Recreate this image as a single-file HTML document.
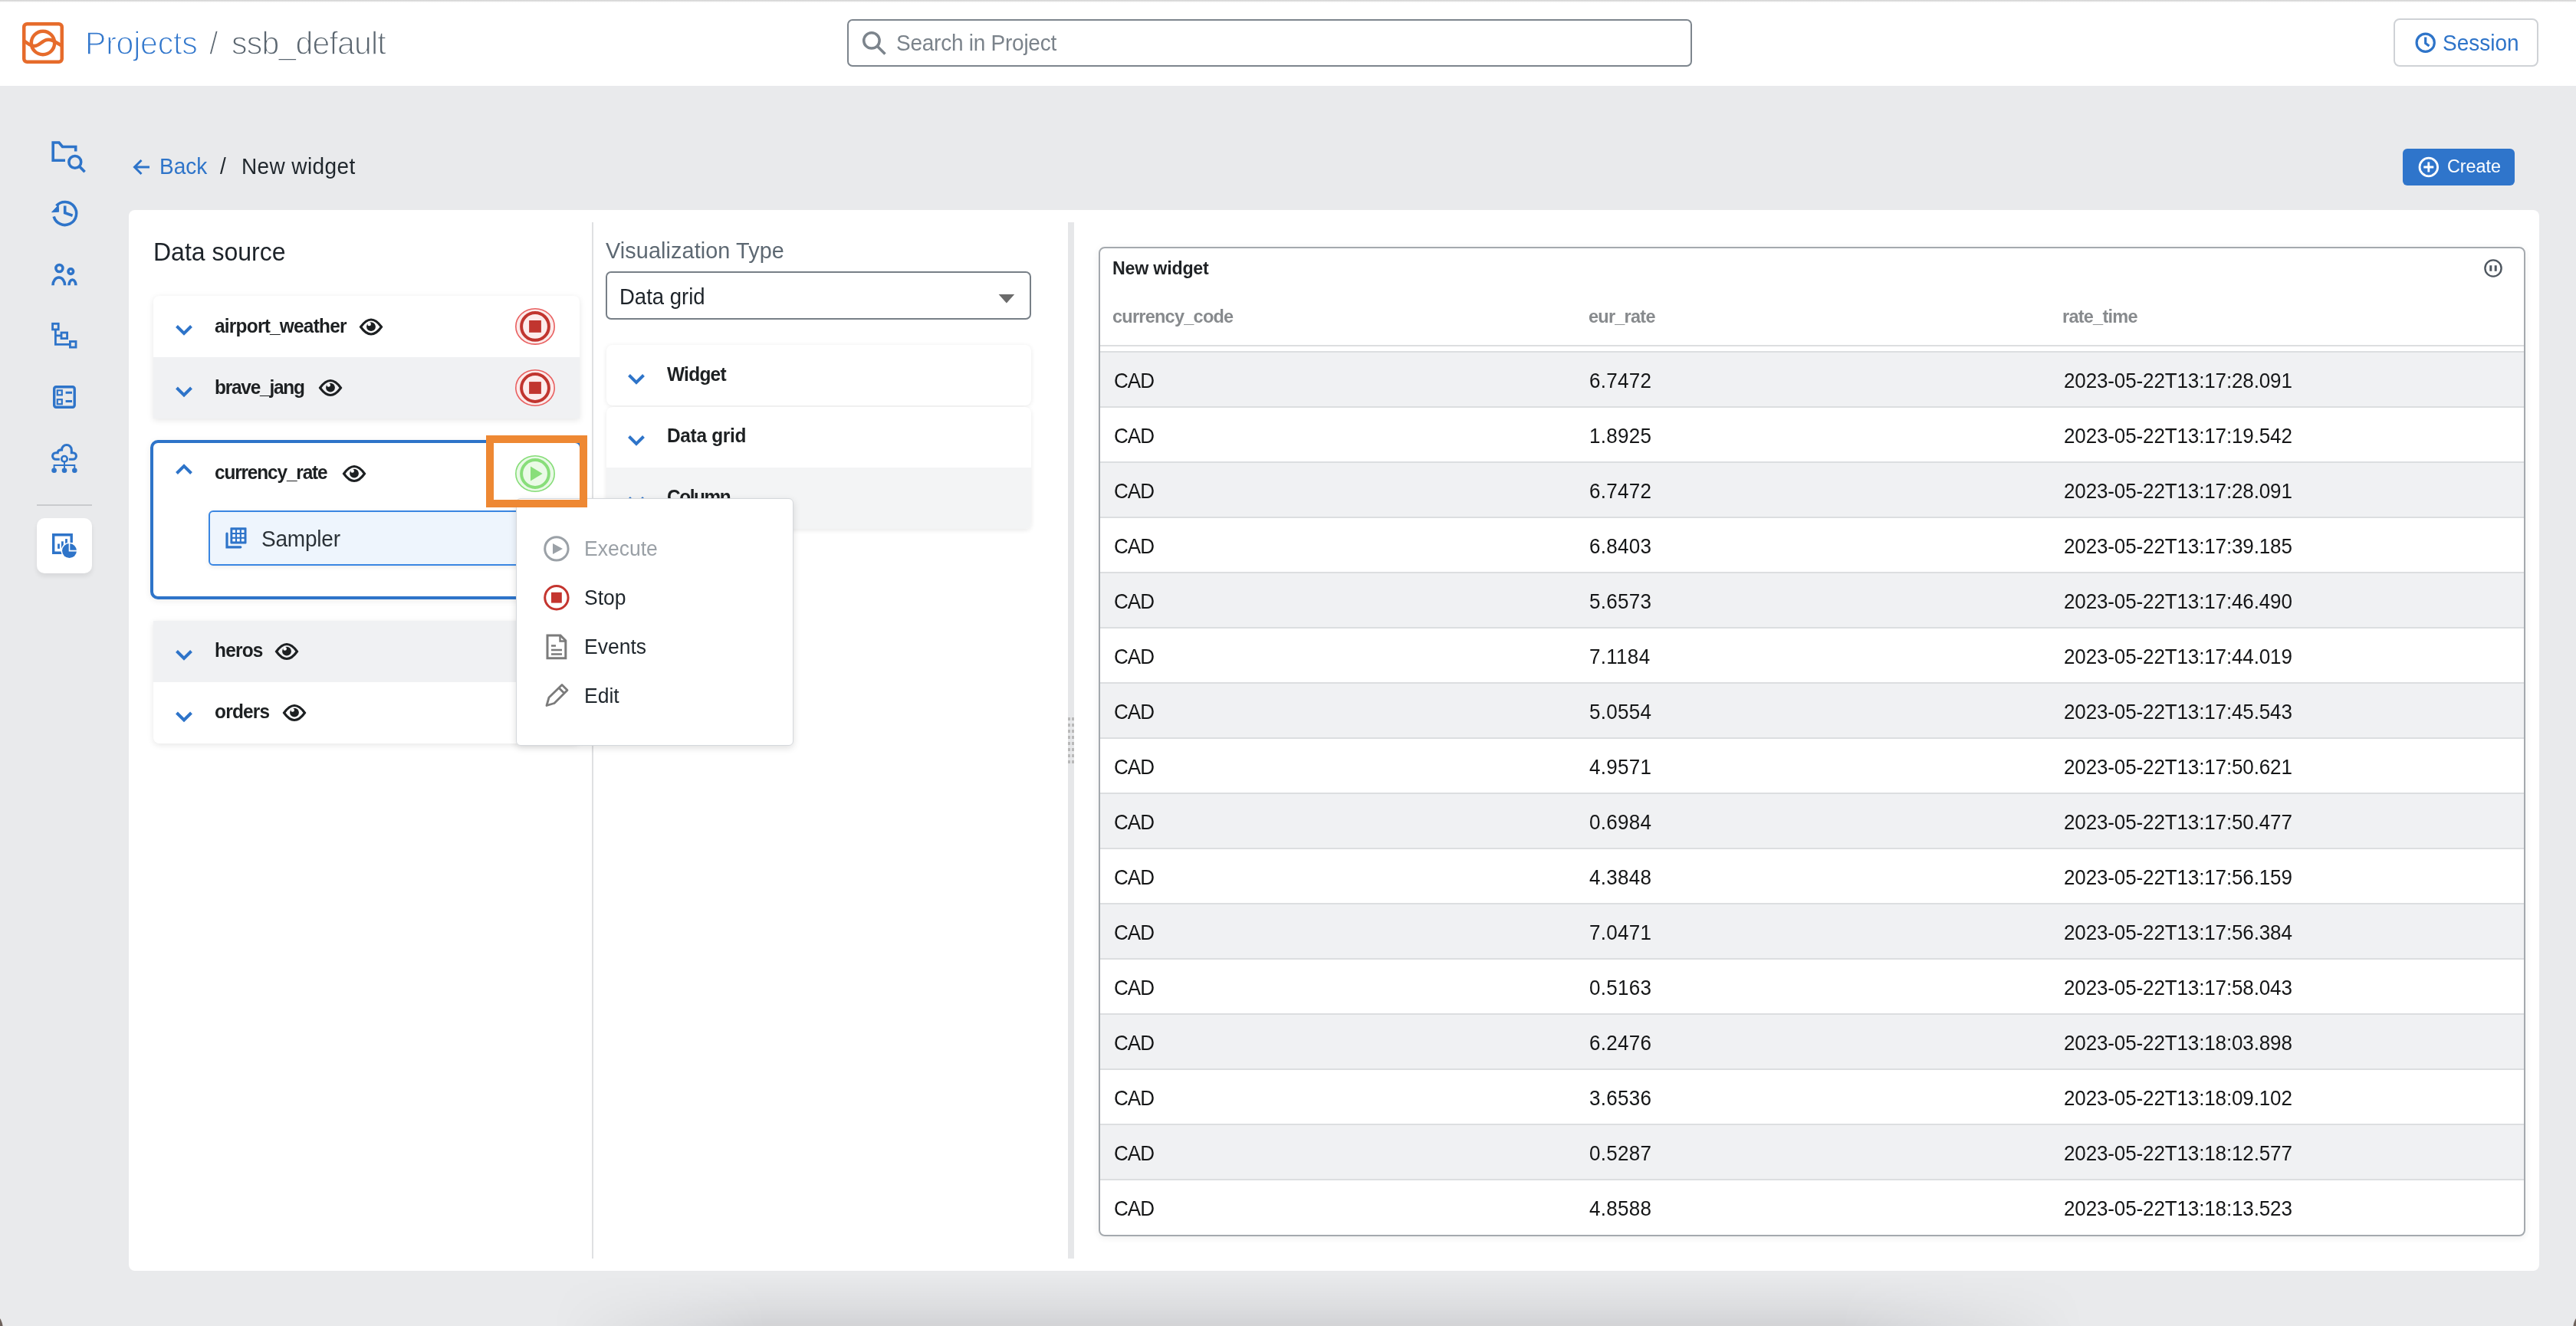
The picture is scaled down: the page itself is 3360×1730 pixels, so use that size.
<!DOCTYPE html>
<html><head><meta charset="utf-8">
<style>
*{box-sizing:border-box;margin:0;padding:0}
html,body{width:3360px;height:1730px;overflow:hidden}
body{background:#e9eaec;font-family:"Liberation Sans",sans-serif;position:relative;color:#1d2329}
.a{position:absolute}
.t{position:absolute;white-space:nowrap;line-height:1}
svg{position:absolute;overflow:visible}
</style></head><body>

<div class="a" style="left:720px;top:1662px;width:2000px;height:68px;background:linear-gradient(to bottom, rgba(0,0,10,0), rgba(0,0,10,0.035) 45%, rgba(0,0,10,0.095));-webkit-mask-image:linear-gradient(to right, transparent, #000 14%, #000 84%, transparent)"></div>
<div class="a" style="left:-6px;top:1716px;width:10px;height:20px;background:#6e625c;border-radius:0 100% 0 0/0 100% 0 0"></div>
<div class="a" style="left:3356px;top:1716px;width:10px;height:20px;background:#6e625c;border-radius:100% 0 0 0/100% 0 0 0"></div>
<div class="a" style="left:0px;top:0px;width:3360px;height:112px;background:#fff"></div>
<div class="a" style="left:0px;top:0px;width:3360px;height:3px;background:linear-gradient(to bottom,#d3d3d3 0,#d8d8d8 1px,#fff 3px)"></div>
<svg style="left:29px;top:29px" width="54" height="54" viewBox="0 0 54 54" fill="none" stroke="#e66b2b" stroke-width="4.5">
<rect x="2.25" y="2.25" width="49.5" height="49.5" rx="4"/>
<circle cx="27" cy="27" r="15.2"/>
<path d="M2,24 C8,28 10,31 16,31 C22,31 26,24 32,23 C38,22 42,25 52,31"/>
</svg>
<div class="t" style="left:110.5px;top:34.8px;font-size:43.25px;color:#3277cc;font-weight:400;letter-spacing:-0.21px;transform:scaleX(0.9479);transform-origin:0 0;-webkit-text-stroke:1.3px #fff;">Projects</div>
<div class="t" style="left:273.0px;top:34.8px;font-size:43.25px;color:#5b6670;font-weight:400;transform:scaleX(0.9479);transform-origin:0 0;-webkit-text-stroke:1.3px #fff;">/</div>
<div class="t" style="left:301.5px;top:34.8px;font-size:43.25px;color:#5b6670;font-weight:400;letter-spacing:-0.84px;transform:scaleX(0.9479);transform-origin:0 0;-webkit-text-stroke:1.3px #fff;">ssb_default</div>
<div class="a" style="left:1105px;top:25px;width:1102px;height:62px;border:2px solid #7d858d;border-radius:7px;background:#fff"></div>
<svg style="left:0;top:0" width="1" height="1" fill="none" stroke="#7c848c" stroke-width="3.5">
<circle cx="1136.9" cy="52.9" r="10.2"/><path d="M1144.5 60.5 L1154.5 70.5"/></svg>
<div class="t" style="left:1169.0px;top:41.0px;font-size:29.54px;color:#7b838b;font-weight:400;letter-spacing:-0.26px;transform:scaleX(0.9479);transform-origin:0 0;">Search in Project</div>
<div class="a" style="left:3122px;top:24px;width:189px;height:63px;border:2px solid #cfd2d6;border-radius:8px;background:#fff"></div>
<svg style="left:0;top:0" width="1" height="1" fill="none" stroke="#2e74c9" stroke-width="3.2">
<circle cx="3163.7" cy="55.7" r="11.6"/><path d="M3163.7 48.5 V56.5 L3168.5 60"/></svg>
<div class="t" style="left:3186.0px;top:40.8px;font-size:29.54px;color:#2e74c9;font-weight:400;transform:scaleX(0.9479);transform-origin:0 0;">Session</div>
<svg style="left:0;top:0" width="1" height="1" fill="none" stroke="#2e74c9" stroke-width="3.6" stroke-linejoin="miter">
<path d="M85,209.2 H69.2 V186 H77 L81.5,191.5 H98.7 V197.5"/>
<circle cx="97.8" cy="211.4" r="7.9"/><path d="M103.5,217 L110.6,224.3"/>
<path d="M70.2,282.5 A15,15 0 1 0 73.5,268.5"/>
<path d="M67.6,276.8 L76.2,267.8 L76.6,276.2 Z" fill="#2e74c9" stroke-width="1"/>
<path d="M84.7,268.6 V277.8 L94.6,281.2"/>
<circle cx="77.4" cy="350" r="4.5"/><path d="M69,372.2 A7.8,10.2 0 0 1 84.6,372.2"/>
<circle cx="92.3" cy="354.1" r="3.3"/><path d="M90,372.2 A4.45,7.2 0 0 1 98.9,372.2"/>
<rect x="68.6" y="422.3" width="7.6" height="7.6" stroke-width="2.8"/>
<rect x="80" y="434" width="7.6" height="7.6" stroke-width="2.8"/>
<rect x="91.4" y="445.5" width="7.6" height="7.6" stroke-width="2.8"/>
<path d="M72.4,430 V449.3 H91.4 M72.4,437.8 H80" stroke-width="2.8"/>
<rect x="70.7" y="504.7" width="26.5" height="26.5" rx="2.5" stroke-width="3.4"/>
<rect x="74.8" y="509.3" width="6" height="6" stroke-width="2.2"/>
<rect x="74.8" y="521.2" width="6" height="6" stroke-width="2.2"/>
<path d="M85.6,512.2 H94 M85.6,523.6 H94" stroke-width="3"/>
<path d="M77.8,599.3 H72.9 A4.3,4.3 0 0 1 72.9,590.7 H75.2 Q75.4,586.9 80.5,586.9 A6.4,6.4 0 1 1 93.3,586.9 V590.7 H95.1 A4.3,4.3 0 0 1 95.1,599.3 H90" stroke-width="3.1"/>
<circle cx="84" cy="598.7" r="3.75" stroke-width="2.6"/>
<path d="M84,602.4 V613 M70.6,607 H97.3 M70.6,606.1 V613 M97.3,606.1 V613" stroke-width="1.9"/>
<circle cx="70.6" cy="613.8" r="3.3" fill="#2e74c9" stroke="none"/>
<circle cx="84" cy="613.8" r="3.3" fill="#2e74c9" stroke="none"/>
<circle cx="97.3" cy="613.8" r="3.3" fill="#2e74c9" stroke="none"/>
</svg>
<div class="a" style="left:48px;top:658px;width:72px;height:2px;background:#c9cbce"></div>
<div class="a" style="left:48px;top:676px;width:72px;height:72px;background:#fff;border-radius:10px;box-shadow:0 4px 6px rgba(0,0,0,0.08)"></div>
<svg style="left:0;top:0" width="1" height="1" fill="none" stroke="#2e74c9" stroke-width="3.4">
<path d="M82,721.2 H69.7 V697.7 H93.2 V708" stroke-width="3.4"/>
<rect x="75.1" y="709.5" width="2.8" height="6.4" fill="#2e74c9" stroke="none"/>
<rect x="80" y="706.3" width="2.8" height="9.4" fill="#2e74c9" stroke="none"/>
<rect x="85.1" y="703.1" width="2.8" height="6" fill="#2e74c9" stroke="none"/>
<circle cx="90.5" cy="718.6" r="10.9" fill="#fff" stroke="none"/>
<circle cx="90.5" cy="718.6" r="9.5" fill="#2e74c9" stroke="none"/>
<path d="M90.5,708 V718.6 H101" stroke="#fff" stroke-width="1.6"/>
</svg>
<svg style="left:0;top:0" width="1" height="1" fill="none" stroke="#2e74c9" stroke-width="3">
<path d="M195,218 H176 M184.5,209 L175.5,218 L184.5,227"/></svg>
<div class="t" style="left:207.5px;top:202.0px;font-size:29.54px;color:#2e74c9;font-weight:400;transform:scaleX(0.9479);transform-origin:0 0;">Back</div>
<div class="t" style="left:287.0px;top:202.0px;font-size:29.54px;color:#1f262c;font-weight:400;transform:scaleX(0.9479);transform-origin:0 0;">/</div>
<div class="t" style="left:314.5px;top:202.0px;font-size:29.54px;color:#1f262c;font-weight:400;letter-spacing:0.42px;transform:scaleX(0.9479);transform-origin:0 0;">New widget</div>
<div class="a" style="left:3134px;top:194px;width:146px;height:48px;background:#2f75cb;border-radius:6px"></div>
<svg style="left:0;top:0" width="1" height="1" fill="none" stroke="#fff" stroke-width="2.8">
<circle cx="3167.8" cy="218" r="11.8"/><path d="M3167.8 211.5 V224.5 M3161.3 218 H3174.3"/></svg>
<div class="t" style="left:3191.5px;top:205.4px;font-size:24.58px;color:#fff;font-weight:400;transform:scaleX(0.9479);transform-origin:0 0;">Create</div>
<div class="a" style="left:168px;top:274px;width:3144px;height:1384px;background:#fff;border-radius:8px"></div>
<div class="t" style="left:199.5px;top:311.9px;font-size:33.76px;color:#1d2329;font-weight:400;transform:scaleX(0.9479);transform-origin:0 0;">Data source</div>
<div class="a" style="left:772px;top:290px;width:2px;height:1352px;background:#dfe0e2"></div>
<div class="a" style="left:1393px;top:290px;width:8px;height:1352px;background:#e6e7e9"></div>
<div class="a" style="left:1393px;top:936px;width:3px;height:4px;background:#b9b9b9"></div>
<div class="a" style="left:1398px;top:936px;width:3px;height:4px;background:#b9b9b9"></div>
<div class="a" style="left:1393px;top:944px;width:3px;height:4px;background:#b9b9b9"></div>
<div class="a" style="left:1398px;top:944px;width:3px;height:4px;background:#b9b9b9"></div>
<div class="a" style="left:1393px;top:952px;width:3px;height:4px;background:#b9b9b9"></div>
<div class="a" style="left:1398px;top:952px;width:3px;height:4px;background:#b9b9b9"></div>
<div class="a" style="left:1393px;top:960px;width:3px;height:4px;background:#b9b9b9"></div>
<div class="a" style="left:1398px;top:960px;width:3px;height:4px;background:#b9b9b9"></div>
<div class="a" style="left:1393px;top:968px;width:3px;height:4px;background:#b9b9b9"></div>
<div class="a" style="left:1398px;top:968px;width:3px;height:4px;background:#b9b9b9"></div>
<div class="a" style="left:1393px;top:976px;width:3px;height:4px;background:#b9b9b9"></div>
<div class="a" style="left:1398px;top:976px;width:3px;height:4px;background:#b9b9b9"></div>
<div class="a" style="left:1393px;top:984px;width:3px;height:4px;background:#b9b9b9"></div>
<div class="a" style="left:1398px;top:984px;width:3px;height:4px;background:#b9b9b9"></div>
<div class="a" style="left:1393px;top:992px;width:3px;height:4px;background:#b9b9b9"></div>
<div class="a" style="left:1398px;top:992px;width:3px;height:4px;background:#b9b9b9"></div>
<div class="a" style="left:200px;top:386px;width:556px;height:160px;border-radius:8px 8px 0 0;background:#fff;box-shadow:0 2px 8px rgba(0,0,0,0.10)"></div>
<div class="a" style="left:200px;top:466px;width:556px;height:80px;background:#f0f1f3"></div>
<svg style="left:0;top:0" width="1" height="1" fill="none" stroke="#2e74c9" stroke-width="4"><path d="M230.5,425.5 L240,435 L249.5,425.5"/></svg>
<div class="t" style="left:279.5px;top:412.5px;font-size:25.74px;color:#1d2022;font-weight:700;letter-spacing:-0.79px;transform:scaleX(0.9479);transform-origin:0 0;">airport_weather</div>
<svg style="left:0;top:0" width="1" height="1" fill="none" stroke="#1d2022" stroke-width="3.1"><path d="M470.5,426.5 Q484,407.5 497.5,426.5 Q484,445.5 470.5,426.5 Z"/><circle cx="484" cy="426.2" r="5.9" fill="#1d2022" stroke="none"/><circle cx="481.6" cy="422.9" r="2.3" fill="#fff" stroke="none"/></svg>
<svg style="left:0;top:0" width="1" height="1"><ellipse cx="698" cy="425.9" rx="25.2" ry="23.2" fill="#fcebeb" stroke="#e96060" stroke-width="1.6"/><circle cx="698" cy="425.9" r="17.9" fill="#fcecec" stroke="#c1352f" stroke-width="4"/><rect x="690.1" y="418.0" width="15.8" height="15.8" fill="#c1352f"/></svg>
<svg style="left:0;top:0" width="1" height="1" fill="none" stroke="#2e74c9" stroke-width="4"><path d="M230.5,506.0 L240,515.5 L249.5,506.0"/></svg>
<div class="t" style="left:279.5px;top:492.5px;font-size:25.74px;color:#1d2022;font-weight:700;letter-spacing:-1.27px;transform:scaleX(0.9479);transform-origin:0 0;">brave_jang</div>
<svg style="left:0;top:0" width="1" height="1" fill="none" stroke="#1d2022" stroke-width="3.1"><path d="M417.5,506 Q431,487 444.5,506 Q431,525 417.5,506 Z"/><circle cx="431" cy="505.7" r="5.9" fill="#1d2022" stroke="none"/><circle cx="428.6" cy="502.4" r="2.3" fill="#fff" stroke="none"/></svg>
<svg style="left:0;top:0" width="1" height="1"><ellipse cx="698" cy="506" rx="25.2" ry="23.2" fill="#fcebeb" stroke="#e96060" stroke-width="1.6"/><circle cx="698" cy="506" r="17.9" fill="#fcecec" stroke="#c1352f" stroke-width="4"/><rect x="690.1" y="498.1" width="15.8" height="15.8" fill="#c1352f"/></svg>
<div class="a" style="left:196px;top:574px;width:564px;height:208px;border:4px solid #2e74c9;border-radius:10px;background:#fff;box-shadow:0 2px 8px rgba(0,0,0,0.08)"></div>
<svg style="left:0;top:0" width="1" height="1" fill="none" stroke="#2e74c9" stroke-width="4"><path d="M230.5,617.5 L240,608 L249.5,617.5"/></svg>
<div class="t" style="left:279.5px;top:604.2px;font-size:25.74px;color:#1d2022;font-weight:700;letter-spacing:-1.21px;transform:scaleX(0.9479);transform-origin:0 0;">currency_rate</div>
<svg style="left:0;top:0" width="1" height="1" fill="none" stroke="#1d2022" stroke-width="3.1"><path d="M448.5,618 Q462,599 475.5,618 Q462,637 448.5,618 Z"/><circle cx="462" cy="617.7" r="5.9" fill="#1d2022" stroke="none"/><circle cx="459.6" cy="614.4" r="2.3" fill="#fff" stroke="none"/></svg>
<svg style="left:0;top:0" width="1" height="1"><ellipse cx="698" cy="618" rx="25.2" ry="23.2" fill="#e9f9e6" stroke="#86dd78" stroke-width="1.6"/><circle cx="698" cy="618" r="17.9" fill="#eafae7" stroke="#88de7a" stroke-width="4"/><path d="M692,608.4 L707.6,618 L692,627.6 Z" fill="#88de7a"/></svg>
<div class="a" style="left:272px;top:666px;width:440px;height:72px;border:2px solid #3a86e2;border-radius:6px;background:#eef5fd;box-shadow:0 2px 6px rgba(0,0,0,0.08)"></div>
<svg style="left:0;top:0" width="1" height="1"><path d="M296,696 V713.8 H313.8" fill="none" stroke="#2e74c9" stroke-width="3.2" stroke-linecap="round"/><rect x="300.4" y="688.3" width="21.1" height="21.1" rx="0.8" fill="#2e74c9"/><rect x="303.3" y="691.4" width="3.6" height="3.6" fill="#fff"/><rect x="303.3" y="697.1" width="3.6" height="3.6" fill="#fff"/><rect x="303.3" y="702.8" width="3.6" height="3.6" fill="#fff"/><rect x="309.1" y="691.4" width="3.6" height="3.6" fill="#fff"/><rect x="309.1" y="697.1" width="3.6" height="3.6" fill="#fff"/><rect x="309.1" y="702.8" width="3.6" height="3.6" fill="#fff"/><rect x="314.9" y="691.4" width="3.6" height="3.6" fill="#fff"/><rect x="314.9" y="697.1" width="3.6" height="3.6" fill="#fff"/><rect x="314.9" y="702.8" width="3.6" height="3.6" fill="#fff"/></svg>
<div class="t" style="left:341.0px;top:687.5px;font-size:29.54px;color:#2b3238;font-weight:400;letter-spacing:-0.21px;transform:scaleX(0.9479);transform-origin:0 0;">Sampler</div>
<div class="a" style="left:200px;top:810px;width:556px;height:160px;border-radius:0 0 8px 8px;background:#fff;box-shadow:0 2px 8px rgba(0,0,0,0.10)"></div>
<div class="a" style="left:200px;top:810px;width:556px;height:80px;background:#f0f1f3"></div>
<svg style="left:0;top:0" width="1" height="1" fill="none" stroke="#2e74c9" stroke-width="4"><path d="M230.5,849.5 L240,859 L249.5,849.5"/></svg>
<div class="t" style="left:279.5px;top:835.9px;font-size:25.74px;color:#1d2022;font-weight:700;letter-spacing:-0.79px;transform:scaleX(0.9479);transform-origin:0 0;">heros</div>
<svg style="left:0;top:0" width="1" height="1" fill="none" stroke="#1d2022" stroke-width="3.1"><path d="M360.5,850 Q374,831 387.5,850 Q374,869 360.5,850 Z"/><circle cx="374" cy="849.7" r="5.9" fill="#1d2022" stroke="none"/><circle cx="371.6" cy="846.4" r="2.3" fill="#fff" stroke="none"/></svg>
<svg style="left:0;top:0" width="1" height="1" fill="none" stroke="#2e74c9" stroke-width="4"><path d="M230.5,930.0 L240,939.5 L249.5,930.0"/></svg>
<div class="t" style="left:279.5px;top:916.0px;font-size:25.74px;color:#1d2022;font-weight:700;letter-spacing:-0.79px;transform:scaleX(0.9479);transform-origin:0 0;">orders</div>
<svg style="left:0;top:0" width="1" height="1" fill="none" stroke="#1d2022" stroke-width="3.1"><path d="M370.5,930 Q384,911 397.5,930 Q384,949 370.5,930 Z"/><circle cx="384" cy="929.7" r="5.9" fill="#1d2022" stroke="none"/><circle cx="381.6" cy="926.4" r="2.3" fill="#fff" stroke="none"/></svg>
<div class="t" style="left:789.5px;top:310.5px;font-size:30.38px;color:#5d6872;font-weight:400;letter-spacing:0.11px;transform:scaleX(0.9479);transform-origin:0 0;">Visualization Type</div>
<div class="a" style="left:790px;top:354px;width:555px;height:63px;border:2px solid #777f87;border-radius:7px;background:#fff"></div>
<div class="t" style="left:808.0px;top:373.4px;font-size:29.01px;color:#1d2329;font-weight:400;transform:scaleX(0.9479);transform-origin:0 0;">Data grid</div>
<svg style="left:0;top:0" width="1" height="1"><path d="M1302.6,384 H1323.2 L1312.9,395.5 Z" fill="#6b6b6b"/></svg>
<div class="a" style="left:791px;top:450px;width:554px;height:79px;border-radius:8px;background:#fff;box-shadow:0 1px 6px rgba(0,0,0,0.09)"></div>
<div class="a" style="left:791px;top:531px;width:554px;height:159px;border-radius:8px;background:#fff;box-shadow:0 2px 6px rgba(0,0,0,0.09);overflow:hidden"><div class="a" style="left:0;top:79px;width:554px;height:80px;background:#f3f4f5"></div></div>
<svg style="left:0;top:0" width="1" height="1" fill="none" stroke="#2e74c9" stroke-width="4"><path d="M820.5,489.5 L830,499 L839.5,489.5"/></svg>
<div class="t" style="left:869.5px;top:476.2px;font-size:25.74px;color:#1d2022;font-weight:700;letter-spacing:-0.74px;transform:scaleX(0.9479);transform-origin:0 0;">Widget</div>
<svg style="left:0;top:0" width="1" height="1" fill="none" stroke="#2e74c9" stroke-width="4"><path d="M820.5,569.5 L830,579 L839.5,569.5"/></svg>
<div class="t" style="left:869.5px;top:556.2px;font-size:25.74px;color:#1d2022;font-weight:700;letter-spacing:-0.32px;transform:scaleX(0.9479);transform-origin:0 0;">Data grid</div>
<svg style="left:0;top:0" width="1" height="1" fill="none" stroke="#2e74c9" stroke-width="4"><path d="M820.5,649.5 L830,659 L839.5,649.5"/></svg>
<div class="t" style="left:869.5px;top:636.2px;font-size:25.74px;color:#1d2022;font-weight:700;letter-spacing:-1.48px;transform:scaleX(0.9479);transform-origin:0 0;">Column</div>
<div class="a" style="left:1433px;top:322px;width:1861px;height:1291px;border-radius:8px;background:#fff;box-shadow:0 2px 10px rgba(0,0,0,0.07)"></div>
<div class="t" style="left:1451.0px;top:338.2px;font-size:24.48px;color:#1f2225;font-weight:700;letter-spacing:-0.21px;transform:scaleX(0.9479);transform-origin:0 0;">New widget</div>
<svg style="left:0;top:0" width="1" height="1" fill="none" stroke="#4f5760" stroke-width="2.4"><circle cx="3252" cy="350" r="10.6"/><path d="M3248.8,346.2 V353.8 M3255.2,346.2 V353.8" stroke-width="3"/></svg>
<div class="t" style="left:1451.0px;top:400.9px;font-size:24.79px;color:#878a8d;font-weight:700;letter-spacing:-0.79px;transform:scaleX(0.9479);transform-origin:0 0;">currency_code</div>
<div class="t" style="left:2071.5px;top:400.9px;font-size:24.79px;color:#878a8d;font-weight:700;letter-spacing:-0.79px;transform:scaleX(0.9479);transform-origin:0 0;">eur_rate</div>
<div class="t" style="left:2689.5px;top:400.9px;font-size:24.79px;color:#878a8d;font-weight:700;letter-spacing:-0.79px;transform:scaleX(0.9479);transform-origin:0 0;">rate_time</div>
<div class="a" style="left:1435px;top:450px;width:1857px;height:2px;background:#dcdee0"></div>
<div class="a" style="left:1435px;top:458px;width:1857px;height:72px;background:#f0f1f3;border-top:2px solid #dcdee0"></div>
<div class="t" style="left:1452.5px;top:482.8px;font-size:27.43px;color:#151617;font-weight:400;letter-spacing:-0.95px;transform:scaleX(0.9479);transform-origin:0 0;">CAD</div>
<div class="t" style="left:2073.0px;top:482.8px;font-size:27.43px;color:#151617;font-weight:400;letter-spacing:0.32px;transform:scaleX(0.9479);transform-origin:0 0;">6.7472</div>
<div class="t" style="left:2691.5px;top:482.8px;font-size:27.43px;color:#151617;font-weight:400;letter-spacing:-0.13px;transform:scaleX(0.9479);transform-origin:0 0;">2023-05-22T13:17:28.091</div>
<div class="a" style="left:1435px;top:530px;width:1857px;height:72px;background:#fff;border-top:2px solid #dcdee0"></div>
<div class="t" style="left:1452.5px;top:554.8px;font-size:27.43px;color:#151617;font-weight:400;letter-spacing:-0.95px;transform:scaleX(0.9479);transform-origin:0 0;">CAD</div>
<div class="t" style="left:2073.0px;top:554.8px;font-size:27.43px;color:#151617;font-weight:400;letter-spacing:0.32px;transform:scaleX(0.9479);transform-origin:0 0;">1.8925</div>
<div class="t" style="left:2691.5px;top:554.8px;font-size:27.43px;color:#151617;font-weight:400;letter-spacing:-0.13px;transform:scaleX(0.9479);transform-origin:0 0;">2023-05-22T13:17:19.542</div>
<div class="a" style="left:1435px;top:602px;width:1857px;height:72px;background:#f0f1f3;border-top:2px solid #dcdee0"></div>
<div class="t" style="left:1452.5px;top:626.8px;font-size:27.43px;color:#151617;font-weight:400;letter-spacing:-0.95px;transform:scaleX(0.9479);transform-origin:0 0;">CAD</div>
<div class="t" style="left:2073.0px;top:626.8px;font-size:27.43px;color:#151617;font-weight:400;letter-spacing:0.32px;transform:scaleX(0.9479);transform-origin:0 0;">6.7472</div>
<div class="t" style="left:2691.5px;top:626.8px;font-size:27.43px;color:#151617;font-weight:400;letter-spacing:-0.13px;transform:scaleX(0.9479);transform-origin:0 0;">2023-05-22T13:17:28.091</div>
<div class="a" style="left:1435px;top:674px;width:1857px;height:72px;background:#fff;border-top:2px solid #dcdee0"></div>
<div class="t" style="left:1452.5px;top:698.8px;font-size:27.43px;color:#151617;font-weight:400;letter-spacing:-0.95px;transform:scaleX(0.9479);transform-origin:0 0;">CAD</div>
<div class="t" style="left:2073.0px;top:698.8px;font-size:27.43px;color:#151617;font-weight:400;letter-spacing:0.32px;transform:scaleX(0.9479);transform-origin:0 0;">6.8403</div>
<div class="t" style="left:2691.5px;top:698.8px;font-size:27.43px;color:#151617;font-weight:400;letter-spacing:-0.13px;transform:scaleX(0.9479);transform-origin:0 0;">2023-05-22T13:17:39.185</div>
<div class="a" style="left:1435px;top:746px;width:1857px;height:72px;background:#f0f1f3;border-top:2px solid #dcdee0"></div>
<div class="t" style="left:1452.5px;top:770.8px;font-size:27.43px;color:#151617;font-weight:400;letter-spacing:-0.95px;transform:scaleX(0.9479);transform-origin:0 0;">CAD</div>
<div class="t" style="left:2073.0px;top:770.8px;font-size:27.43px;color:#151617;font-weight:400;letter-spacing:0.32px;transform:scaleX(0.9479);transform-origin:0 0;">5.6573</div>
<div class="t" style="left:2691.5px;top:770.8px;font-size:27.43px;color:#151617;font-weight:400;letter-spacing:-0.13px;transform:scaleX(0.9479);transform-origin:0 0;">2023-05-22T13:17:46.490</div>
<div class="a" style="left:1435px;top:818px;width:1857px;height:72px;background:#fff;border-top:2px solid #dcdee0"></div>
<div class="t" style="left:1452.5px;top:842.8px;font-size:27.43px;color:#151617;font-weight:400;letter-spacing:-0.95px;transform:scaleX(0.9479);transform-origin:0 0;">CAD</div>
<div class="t" style="left:2073.0px;top:842.8px;font-size:27.43px;color:#151617;font-weight:400;letter-spacing:0.32px;transform:scaleX(0.9479);transform-origin:0 0;">7.1184</div>
<div class="t" style="left:2691.5px;top:842.8px;font-size:27.43px;color:#151617;font-weight:400;letter-spacing:-0.13px;transform:scaleX(0.9479);transform-origin:0 0;">2023-05-22T13:17:44.019</div>
<div class="a" style="left:1435px;top:890px;width:1857px;height:72px;background:#f0f1f3;border-top:2px solid #dcdee0"></div>
<div class="t" style="left:1452.5px;top:914.8px;font-size:27.43px;color:#151617;font-weight:400;letter-spacing:-0.95px;transform:scaleX(0.9479);transform-origin:0 0;">CAD</div>
<div class="t" style="left:2073.0px;top:914.8px;font-size:27.43px;color:#151617;font-weight:400;letter-spacing:0.32px;transform:scaleX(0.9479);transform-origin:0 0;">5.0554</div>
<div class="t" style="left:2691.5px;top:914.8px;font-size:27.43px;color:#151617;font-weight:400;letter-spacing:-0.13px;transform:scaleX(0.9479);transform-origin:0 0;">2023-05-22T13:17:45.543</div>
<div class="a" style="left:1435px;top:962px;width:1857px;height:72px;background:#fff;border-top:2px solid #dcdee0"></div>
<div class="t" style="left:1452.5px;top:986.8px;font-size:27.43px;color:#151617;font-weight:400;letter-spacing:-0.95px;transform:scaleX(0.9479);transform-origin:0 0;">CAD</div>
<div class="t" style="left:2073.0px;top:986.8px;font-size:27.43px;color:#151617;font-weight:400;letter-spacing:0.32px;transform:scaleX(0.9479);transform-origin:0 0;">4.9571</div>
<div class="t" style="left:2691.5px;top:986.8px;font-size:27.43px;color:#151617;font-weight:400;letter-spacing:-0.13px;transform:scaleX(0.9479);transform-origin:0 0;">2023-05-22T13:17:50.621</div>
<div class="a" style="left:1435px;top:1034px;width:1857px;height:72px;background:#f0f1f3;border-top:2px solid #dcdee0"></div>
<div class="t" style="left:1452.5px;top:1058.8px;font-size:27.43px;color:#151617;font-weight:400;letter-spacing:-0.95px;transform:scaleX(0.9479);transform-origin:0 0;">CAD</div>
<div class="t" style="left:2073.0px;top:1058.8px;font-size:27.43px;color:#151617;font-weight:400;letter-spacing:0.32px;transform:scaleX(0.9479);transform-origin:0 0;">0.6984</div>
<div class="t" style="left:2691.5px;top:1058.8px;font-size:27.43px;color:#151617;font-weight:400;letter-spacing:-0.13px;transform:scaleX(0.9479);transform-origin:0 0;">2023-05-22T13:17:50.477</div>
<div class="a" style="left:1435px;top:1106px;width:1857px;height:72px;background:#fff;border-top:2px solid #dcdee0"></div>
<div class="t" style="left:1452.5px;top:1130.8px;font-size:27.43px;color:#151617;font-weight:400;letter-spacing:-0.95px;transform:scaleX(0.9479);transform-origin:0 0;">CAD</div>
<div class="t" style="left:2073.0px;top:1130.8px;font-size:27.43px;color:#151617;font-weight:400;letter-spacing:0.32px;transform:scaleX(0.9479);transform-origin:0 0;">4.3848</div>
<div class="t" style="left:2691.5px;top:1130.8px;font-size:27.43px;color:#151617;font-weight:400;letter-spacing:-0.13px;transform:scaleX(0.9479);transform-origin:0 0;">2023-05-22T13:17:56.159</div>
<div class="a" style="left:1435px;top:1178px;width:1857px;height:72px;background:#f0f1f3;border-top:2px solid #dcdee0"></div>
<div class="t" style="left:1452.5px;top:1202.8px;font-size:27.43px;color:#151617;font-weight:400;letter-spacing:-0.95px;transform:scaleX(0.9479);transform-origin:0 0;">CAD</div>
<div class="t" style="left:2073.0px;top:1202.8px;font-size:27.43px;color:#151617;font-weight:400;letter-spacing:0.32px;transform:scaleX(0.9479);transform-origin:0 0;">7.0471</div>
<div class="t" style="left:2691.5px;top:1202.8px;font-size:27.43px;color:#151617;font-weight:400;letter-spacing:-0.13px;transform:scaleX(0.9479);transform-origin:0 0;">2023-05-22T13:17:56.384</div>
<div class="a" style="left:1435px;top:1250px;width:1857px;height:72px;background:#fff;border-top:2px solid #dcdee0"></div>
<div class="t" style="left:1452.5px;top:1274.8px;font-size:27.43px;color:#151617;font-weight:400;letter-spacing:-0.95px;transform:scaleX(0.9479);transform-origin:0 0;">CAD</div>
<div class="t" style="left:2073.0px;top:1274.8px;font-size:27.43px;color:#151617;font-weight:400;letter-spacing:0.32px;transform:scaleX(0.9479);transform-origin:0 0;">0.5163</div>
<div class="t" style="left:2691.5px;top:1274.8px;font-size:27.43px;color:#151617;font-weight:400;letter-spacing:-0.13px;transform:scaleX(0.9479);transform-origin:0 0;">2023-05-22T13:17:58.043</div>
<div class="a" style="left:1435px;top:1322px;width:1857px;height:72px;background:#f0f1f3;border-top:2px solid #dcdee0"></div>
<div class="t" style="left:1452.5px;top:1346.8px;font-size:27.43px;color:#151617;font-weight:400;letter-spacing:-0.95px;transform:scaleX(0.9479);transform-origin:0 0;">CAD</div>
<div class="t" style="left:2073.0px;top:1346.8px;font-size:27.43px;color:#151617;font-weight:400;letter-spacing:0.32px;transform:scaleX(0.9479);transform-origin:0 0;">6.2476</div>
<div class="t" style="left:2691.5px;top:1346.8px;font-size:27.43px;color:#151617;font-weight:400;letter-spacing:-0.13px;transform:scaleX(0.9479);transform-origin:0 0;">2023-05-22T13:18:03.898</div>
<div class="a" style="left:1435px;top:1394px;width:1857px;height:72px;background:#fff;border-top:2px solid #dcdee0"></div>
<div class="t" style="left:1452.5px;top:1418.8px;font-size:27.43px;color:#151617;font-weight:400;letter-spacing:-0.95px;transform:scaleX(0.9479);transform-origin:0 0;">CAD</div>
<div class="t" style="left:2073.0px;top:1418.8px;font-size:27.43px;color:#151617;font-weight:400;letter-spacing:0.32px;transform:scaleX(0.9479);transform-origin:0 0;">3.6536</div>
<div class="t" style="left:2691.5px;top:1418.8px;font-size:27.43px;color:#151617;font-weight:400;letter-spacing:-0.13px;transform:scaleX(0.9479);transform-origin:0 0;">2023-05-22T13:18:09.102</div>
<div class="a" style="left:1435px;top:1466px;width:1857px;height:72px;background:#f0f1f3;border-top:2px solid #dcdee0"></div>
<div class="t" style="left:1452.5px;top:1490.8px;font-size:27.43px;color:#151617;font-weight:400;letter-spacing:-0.95px;transform:scaleX(0.9479);transform-origin:0 0;">CAD</div>
<div class="t" style="left:2073.0px;top:1490.8px;font-size:27.43px;color:#151617;font-weight:400;letter-spacing:0.32px;transform:scaleX(0.9479);transform-origin:0 0;">0.5287</div>
<div class="t" style="left:2691.5px;top:1490.8px;font-size:27.43px;color:#151617;font-weight:400;letter-spacing:-0.13px;transform:scaleX(0.9479);transform-origin:0 0;">2023-05-22T13:18:12.577</div>
<div class="a" style="left:1435px;top:1538px;width:1857px;height:72px;background:#fff;border-top:2px solid #dcdee0"></div>
<div class="t" style="left:1452.5px;top:1562.8px;font-size:27.43px;color:#151617;font-weight:400;letter-spacing:-0.95px;transform:scaleX(0.9479);transform-origin:0 0;">CAD</div>
<div class="t" style="left:2073.0px;top:1562.8px;font-size:27.43px;color:#151617;font-weight:400;letter-spacing:0.32px;transform:scaleX(0.9479);transform-origin:0 0;">4.8588</div>
<div class="t" style="left:2691.5px;top:1562.8px;font-size:27.43px;color:#151617;font-weight:400;letter-spacing:-0.13px;transform:scaleX(0.9479);transform-origin:0 0;">2023-05-22T13:18:13.523</div>
<div class="a" style="left:1433px;top:322px;width:1861px;height:1291px;border:2px solid #a4a9ae;border-radius:8px"></div>
<div class="a" style="left:673px;top:650px;width:362px;height:323px;background:#fff;border:1.5px solid #d5d8dc;border-radius:6px;box-shadow:0 3px 10px rgba(0,0,0,0.13)"></div>
<svg style="left:0;top:0" width="1" height="1"><circle cx="725.9" cy="715.9" r="15.2" fill="none" stroke="#9ba1a7" stroke-width="3"/><path d="M721,709 L734,716 L721,723 Z" fill="#9ba1a7"/><circle cx="725.9" cy="779.7" r="15.2" fill="none" stroke="#c4352f" stroke-width="3"/><rect x="719" y="772.8" width="13.8" height="13.8" fill="#c4352f"/><path d="M714,829 H731 L737.8,835.8 V858.8 H714 Z" fill="none" stroke="#7b7b7b" stroke-width="3"/><path d="M730.5,829 V836.5 H737.8" fill="none" stroke="#7b7b7b" stroke-width="2.4"/><path d="M719,842.5 H725 M719,848 H733 M719,853.5 H733" stroke="#7b7b7b" stroke-width="2.6"/><path d="M713,920.5 L716,910 L733,893.5 L740,900.5 L723,917.5 Z M729,897.5 L736,904.5" fill="none" stroke="#7b7b7b" stroke-width="2.8" stroke-linejoin="round"/></svg>
<div class="t" style="left:762.0px;top:702.1px;font-size:27.96px;color:#9aa0a6;font-weight:400;transform:scaleX(0.9479);transform-origin:0 0;">Execute</div>
<div class="t" style="left:762.0px;top:766.3px;font-size:27.96px;color:#1f262c;font-weight:400;transform:scaleX(0.9479);transform-origin:0 0;">Stop</div>
<div class="t" style="left:762.0px;top:830.1px;font-size:27.96px;color:#1f262c;font-weight:400;transform:scaleX(0.9479);transform-origin:0 0;">Events</div>
<div class="t" style="left:762.0px;top:894.2px;font-size:27.96px;color:#1f262c;font-weight:400;transform:scaleX(0.9479);transform-origin:0 0;">Edit</div>
<div class="a" style="left:634px;top:568px;width:132px;height:94px;border:10px solid #ee8833"></div>
</body></html>
